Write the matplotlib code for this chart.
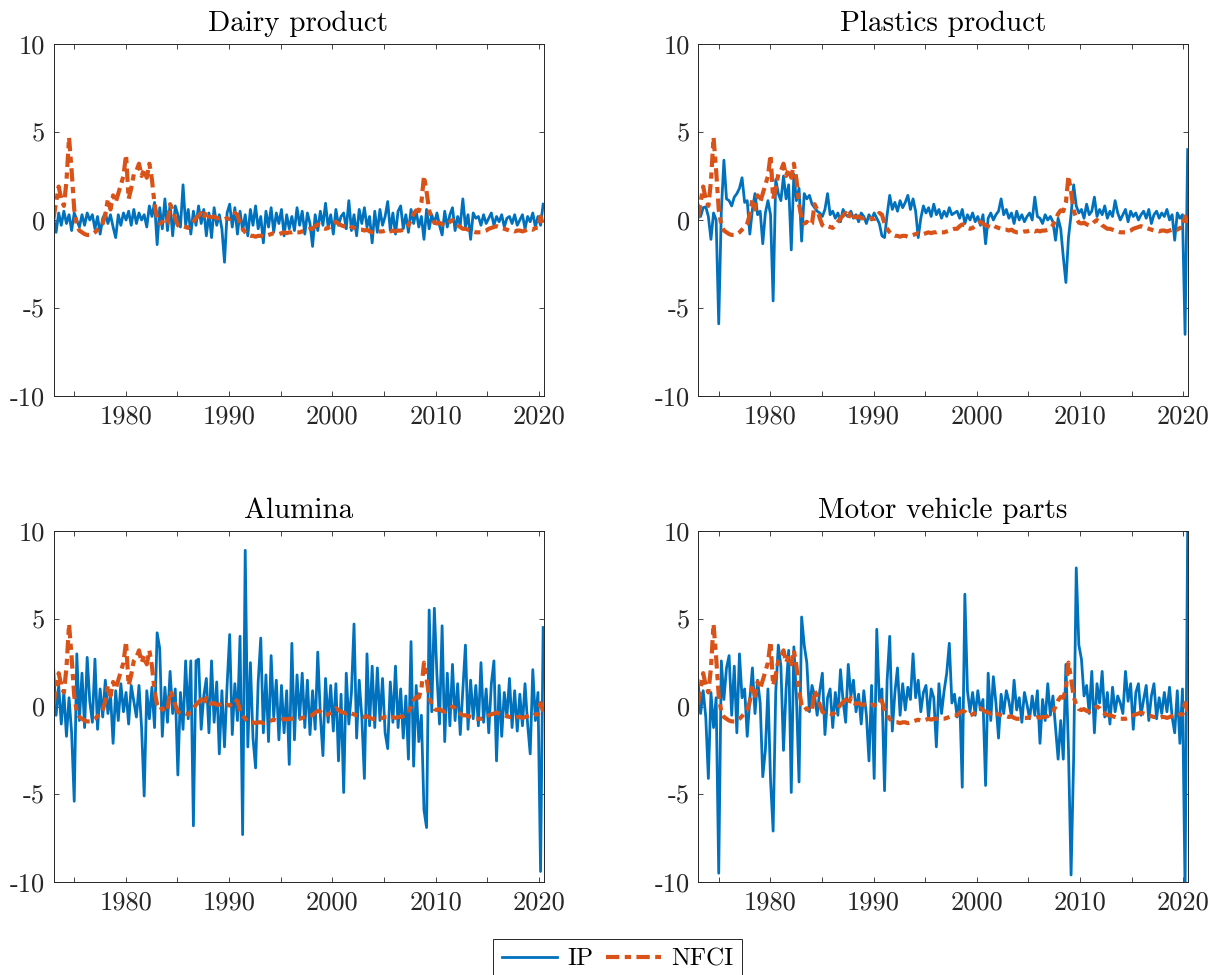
import numpy as np
import matplotlib
matplotlib.use("Agg")
import matplotlib.pyplot as plt

plt.rcParams["font.family"] = "cmr10"
plt.rcParams["mathtext.fontset"] = "cm"
plt.rcParams["axes.unicode_minus"] = False

# quarterly readings, 1973Q1 .. 2019Q4, then two points for 2020
nfci = [
    0.1, 1.0, 1.9, 1.2,  0.8, 2.2, 4.7, 2.8,  0.6, -0.3, -0.6, -0.7,
    -0.8, -0.85, -0.85, -0.8,  -0.7, -0.55, -0.4, -0.2,  0.3, 1.2, 0.6, 1.4,
    1.0, 1.5, 2.0, 2.5,  3.7, 1.2, 1.8, 2.6,  2.8, 3.2, 2.5, 2.9,
    2.4, 3.2, 2.3, 0.9,  0.1, -0.2, -0.1, -0.3,  -0.2, 0.9, 0.6, 0.1,
    -0.3, -0.4, -0.35, -0.4,  -0.45, -0.3, -0.1, 0.1,  0.25, 0.4, 0.1, 0.5,
    0.2, 0.15, 0.2, 0.1,  0.1, 0.15, 0.05, 0.1,  0.05, 0.2, 0.4, 0.3,
    -0.2, -0.5, -0.7, -0.85,  -0.9, -0.9, -0.95, -0.9,  -0.9, -0.95, -0.9, -0.85,
    -0.8, -0.75, -0.8, -0.8,  -0.75, -0.7, -0.75, -0.7,  -0.7, -0.65, -0.7, -0.7,
    -0.65, -0.6, -0.55, -0.5,  -0.5, -0.35, -0.25, -0.3,  -0.45, -0.5, -0.45, -0.35,
    -0.2, -0.1, -0.2, -0.3,  -0.35, -0.4, -0.3, -0.4,  -0.45, -0.5, -0.55, -0.55,
    -0.6, -0.55, -0.65, -0.7,  -0.7, -0.7, -0.65, -0.65,  -0.6, -0.6, -0.65, -0.6,
    -0.65, -0.6, -0.6, -0.55,  -0.45, -0.3, 0.0, 0.35,  0.55, 0.5, 1.0, 2.5,
    1.6, 0.55, 0.1, -0.15,  -0.2, -0.15, -0.25, -0.3,  -0.25, -0.1, 0.0, -0.1,
    -0.3, -0.4, -0.5, -0.5,  -0.55, -0.6, -0.65, -0.7,  -0.7, -0.7, -0.65, -0.6,
    -0.5, -0.45, -0.4, -0.35,  -0.4, -0.45, -0.5, -0.55,  -0.6, -0.6, -0.65, -0.6,
    -0.6, -0.65, -0.6, -0.55,  -0.5, -0.55, -0.45, -0.45,  0.2, -0.3,
]

ip_dairy = [
    0.2, -0.7, 0.4, -0.3,  0.5, -0.2, 0.3, -0.6,  0.4, 0.0, -0.4, 0.3,
    -0.3, 0.4, 0.0, 0.3,  -0.5, 0.2, -0.8, 0.1,  0.4, -0.2, 0.3, -0.4,
    -1.0, 0.3, -0.3, 0.4,  0.0, 0.5, -0.3, 0.6,  -0.2, 0.4, 0.0, 0.3,
    -0.4, 0.8, 0.2, 1.0,  -1.4, 0.7, -0.5, 1.2,  -0.6, 0.9, -0.9, 0.8,
    0.3, -0.4, 2.0, -0.3,  0.6, -0.8, 0.5, -0.3,  0.8, -0.2, 0.6, -0.9,
    0.4, -1.0, 0.7, -0.3,  0.3, -0.5, -2.4, 0.4,  0.9, -0.4, 0.7, -0.8,
    0.5, -0.6, 0.3, -0.9,  0.6, -0.3, 0.8, -0.5,  0.2, -1.3, 0.5, -0.4,
    0.7, -0.7, 0.4, -0.2,  0.6, -0.9, 0.3, -0.5,  0.2, -0.6, 0.7, -0.3,
    0.5, -0.8, 0.4, -0.2,  -1.5, 0.3, -0.6, 0.5,  -0.3, 0.95, -0.4, 0.3,
    -0.8, 0.6, -0.3, 0.2,  0.4, -0.5, 1.1, -0.6,  0.3, -0.9, 0.6, -0.2,
    0.7, -0.4, 0.2, -1.3,  0.5, -0.7, 0.6, -0.3,  0.2, 1.05, -0.6, 0.4,
    -0.8, 0.5, 0.8, -0.5,  0.3, -0.7, 0.6, -0.2,  0.5, -0.4, 0.2, -1.1,
    0.6, -0.5, 0.3, -0.2,  0.4, -0.3, -0.85, 0.5,  -0.4, 0.3, 0.7, -0.6,
    0.2, -0.3, 1.2, -0.4,  0.3, -1.1, 0.4, 0.1,  0.2, -0.3, 0.3, -0.2,
    0.1, 0.4, -0.3, 0.2,  -0.1, 0.3, -0.4, 0.1,  0.2, -0.2, 0.3, -0.3,
    0.0, 0.3, -0.5, 0.2,  -0.1, 0.4, -0.4, 0.2,  -0.3, 0.9,
]

ip_plastics = [
    0.9, 0.2, 0.7, 0.75,  0.2, -1.1, 0.4, 0.0,  -5.9, 0.5, 3.4, 1.2,
    1.1, 0.8, 1.3, 1.5,  1.8, 2.4, 1.0, 1.1,  -0.8, 0.6, 1.5, 0.3,
    0.5, -1.35, 0.4, 1.1,  0.3, -4.6, 2.3, 1.5,  1.1, 2.5, 1.2, 2.0,
    -1.7, 2.6, 1.1, 1.8,  -1.2, 1.5, 1.2, 1.4,  0.9, 0.7, 0.5, 0.4,
    0.2, 0.6, 1.5, 0.3,  0.5, 0.1, 0.4, -0.1,  0.6, 0.3, 0.2, 0.5,
    0.1, 0.3, -0.1, 0.4,  0.2, -0.2, 0.3, 0.0,  0.4, 0.1, -0.2, -0.9,
    -1.0, 0.3, 1.4, 0.6,  1.0, 0.5, 1.1, 0.7,  1.0, 1.4, 0.6, 1.2,
    0.5, -1.0, 0.1, 0.8,  0.4, 0.7, 0.2, 0.9,  0.3, 0.6, 0.1, 0.5,
    0.2, 0.7, 0.3, 0.4,  0.5, 0.1, 0.6, -0.2,  0.3, 0.0, 0.4, -0.1,
    0.2, -0.3, 0.3, -1.35,  0.1, 0.4, 0.0, 0.3,  0.5, 1.2, 0.3, 0.6,
    0.1, 0.4, -0.2, 0.5,  0.0, 0.3, -0.1, 0.2,  0.4, 0.0, 1.3, 0.2,
    0.1, -0.2, 0.3, 0.0,  0.2, -0.1, -1.15, 0.1,  -0.5, -2.1, -3.55, -1.0,
    0.3, 2.0, 0.8, 0.4,  0.6, 0.1, 0.9, 0.3,  0.5, 1.3, 0.2, 0.6,
    0.3, 0.8, 0.1, 0.5,  0.2, 1.1, 0.4, 0.0,  0.3, 0.6, -0.1, 0.5,
    0.2, 0.4, 0.0, 0.3,  0.5, 0.1, 0.6, -0.2,  0.3, 0.5, 0.1, 0.4,
    0.2, 0.6, 0.0, 0.3,  -1.15, 0.4, 0.1, 0.3,  -6.5, 4.0,
]

ip_alumina = [
    2.3, -0.5, 1.2, -1.0,  0.8, -1.7, 0.5, -1.5,  -5.4, 3.0, -0.8, 1.9,
    -1.2, 2.8, 0.3, -0.9,  2.7, -1.3, 1.0, -0.6,  1.5, -0.4, 0.7, -2.1,
    0.9, -0.8, 1.3, -0.3,  0.8, -1.0, 1.2, 0.3,  -0.6, 1.2, -1.2, -5.1,
    0.9, -0.7, 1.1, -1.2,  4.2, 3.3, -1.7, 1.1,  -0.9, 2.0, -0.4, 1.0,
    -3.9, 0.8, -1.3, 2.6,  -0.7, 2.6, -6.8, 2.6,  2.7, -1.3, 0.6, 1.6,
    -1.5, 2.6, -0.9, 1.4,  -2.7, 0.9, -2.3, 1.2,  4.1, -1.6, 1.3, -0.8,
    4.0, -7.3, 8.9, -2.3,  2.5, -1.8, -3.5, 1.4,  3.9, -1.5, 1.8, -2.0,
    2.9, -0.6, 1.5, -1.9,  1.2, -1.5, 0.9, -3.3,  3.6, -1.9, 1.8, -0.7,
    1.9, -1.2, 1.5, -1.6,  0.9, -1.3, 3.1, -0.5,  -2.8, 1.6, -0.9, 1.2,
    -1.4, 1.3, -3.1, 0.7,  -4.9, 1.9, -1.0, 0.8,  4.7, -1.8, 1.5, -0.6,
    -4.1, 3.0, -1.1, 2.3,  -1.2, 2.2, -0.8, 1.6,  -1.5, -2.4, 1.4, -0.9,
    2.3, -1.2, 1.0, -1.8,  0.6, -3.0, 3.7, -3.4,  1.2, -2.0, -0.5, -5.9,
    -6.9, 5.5, -0.3, 5.6,  1.8, -1.0, 4.6, -2.0,  1.9, -1.1, 2.4, -0.8,
    1.3, -1.6, 0.9, 3.5,  -1.3, 1.5, -0.7, 1.2,  -1.1, 2.5, -0.9, 1.0,
    -1.5, 1.3, 2.6, -3.1,  1.2, -1.7, 0.8, -0.6,  1.6, -1.2, 0.9, -1.4,
    0.7, -1.1, 1.3, -1.0,  -2.7, 2.1, -0.8, 0.8,  -9.4, 4.5,
]

ip_motor = [
    1.5, -0.4, 0.9, -0.6,  -4.1, 0.8, -1.2, 0.5,  -9.5, 2.6, 0.4, 2.2,
    2.9, -0.5, 2.3, -1.5,  3.0, 0.5, 1.0, -1.7,  0.4, 2.2, -0.4, 1.5,
    0.2, -4.0, -2.5, 1.0,  -4.2, -7.1, 0.8, 3.5,  2.3, -2.5, 1.0, 3.2,
    -4.9, 3.4, 0.5, -4.3,  5.1, 3.5, 2.5, -0.3,  1.2, 0.6, -0.5, 0.9,
    1.9, -1.6, 0.5, 1.0,  -1.2, 0.8, -0.5, 2.1,  0.3, -0.9, 2.4, 0.6,
    1.5, -0.3, 0.7, -1.0,  0.9, -0.5, -3.1, 1.2,  -4.1, 4.4, 0.3, 1.0,
    -4.8, 1.5, 4.0, -1.4,  0.8, 2.2, -0.5, 1.3,  -0.2, 1.1, 0.4, 3.0,
    0.5, 1.5, -0.3, 0.8,  1.2, -0.7, 1.0, 0.5,  -2.3, 1.3, -0.4, 0.9,
    1.9, 3.6, 0.2, 0.7,  -0.6, 0.5, -4.6, 6.4,  0.9, -0.3, 0.8, -0.5,
    0.9, -0.2, 0.4, -4.5,  1.9, -0.8, 1.7, 0.2,  -1.8, 0.7, -0.4, 0.9,
    0.3, -0.6, 1.5, -0.2,  0.5, -0.9, 0.8, 0.1,  -0.7, 0.6, -0.5, 0.9,
    -2.1, 0.4, -0.8, 1.3,  -0.5, 0.6, -1.2, -3.0,  -0.8, -3.0, 2.4, -2.5,
    -9.6, -2.9, 7.9, 3.5,  2.7, 0.6, 1.2, -0.4,  2.0, -1.5, 1.3, 0.2,
    2.0, -0.6, 0.8, -1.0,  1.1, -0.3, 0.6, 0.2,  -0.4, 2.0, 0.3, 1.3,
    -1.3, 0.8, 1.3, -0.5,  0.4, 1.2, -0.8, 0.6,  1.3, -0.7, 0.5, -0.4,
    0.8, -0.3, 1.1, -0.6,  -1.5, 0.9, -2.1, 1.0,  -10.5, 10.2,
]

panels = [
    ("Dairy product", ip_dairy),
    ("Plastics product", ip_plastics),
    ("Alumina", ip_alumina),
    ("Motor vehicle parts", ip_motor),
]

# sample dates, 1973m1 .. 2020m6
t = np.linspace(1973.0, 2020 + 5 / 12, len(nfci))

W, H = 1223, 975
fig = plt.figure(figsize=(W / 100, H / 100), dpi=100)

ax_pos = [
    (53.5, 44, 490, 352),
    (698, 44, 490, 352),
    (53.5, 531, 490, 351),
    (698, 531, 490, 351),
]

blue = "#0072BD"
orange = "#D95319"
dark = "#262626"

lines = None
for (title, ip), (x0, y0, w, h) in zip(panels, ax_pos):
    ax = fig.add_axes([x0 / W, 1 - (y0 + h) / H, w / W, h / H])
    l1, = ax.plot(t, ip, color=blue, lw=2.0)
    l2, = ax.plot(t, nfci, color=orange, lw=3.0, dashes=[3.2, 1.3, 1.5, 1.3])
    lines = (l1, l2)
    ax.set_xlim(1973.0, 2020.45)
    ax.set_ylim(-10, 10)
    ax.set_xticks([1980, 1990, 2000, 2010, 2020])
    ax.set_xticks([1975, 1985, 1995, 2005, 2015], minor=True)
    ax.set_yticks([-10, -5, 0, 5, 10])
    ax.set_yticklabels(["-10", "-5", "0", "5", "10"])
    ax.tick_params(which="both", direction="in", top=True, right=True,
                   length=3.6, width=0.6, colors=dark, labelsize=19, pad=6)
    for s in ax.spines.values():
        s.set_color(dark)
        s.set_linewidth(0.7)
    ax.set_title(title, fontsize=21, pad=9, color="black")

leg = fig.legend(lines, ["IP", "NFCI"], loc="upper center",
                 bbox_to_anchor=(0.505, 1 - 939 / H), ncol=2, frameon=True,
                 fancybox=False, edgecolor=dark, framealpha=1, fontsize=18,
                 handlelength=2.2, columnspacing=0.5, handletextpad=0.4,
                 borderpad=0.35, borderaxespad=0)
leg.get_frame().set_linewidth(0.7)

fig.savefig("out.png", dpi=100)
